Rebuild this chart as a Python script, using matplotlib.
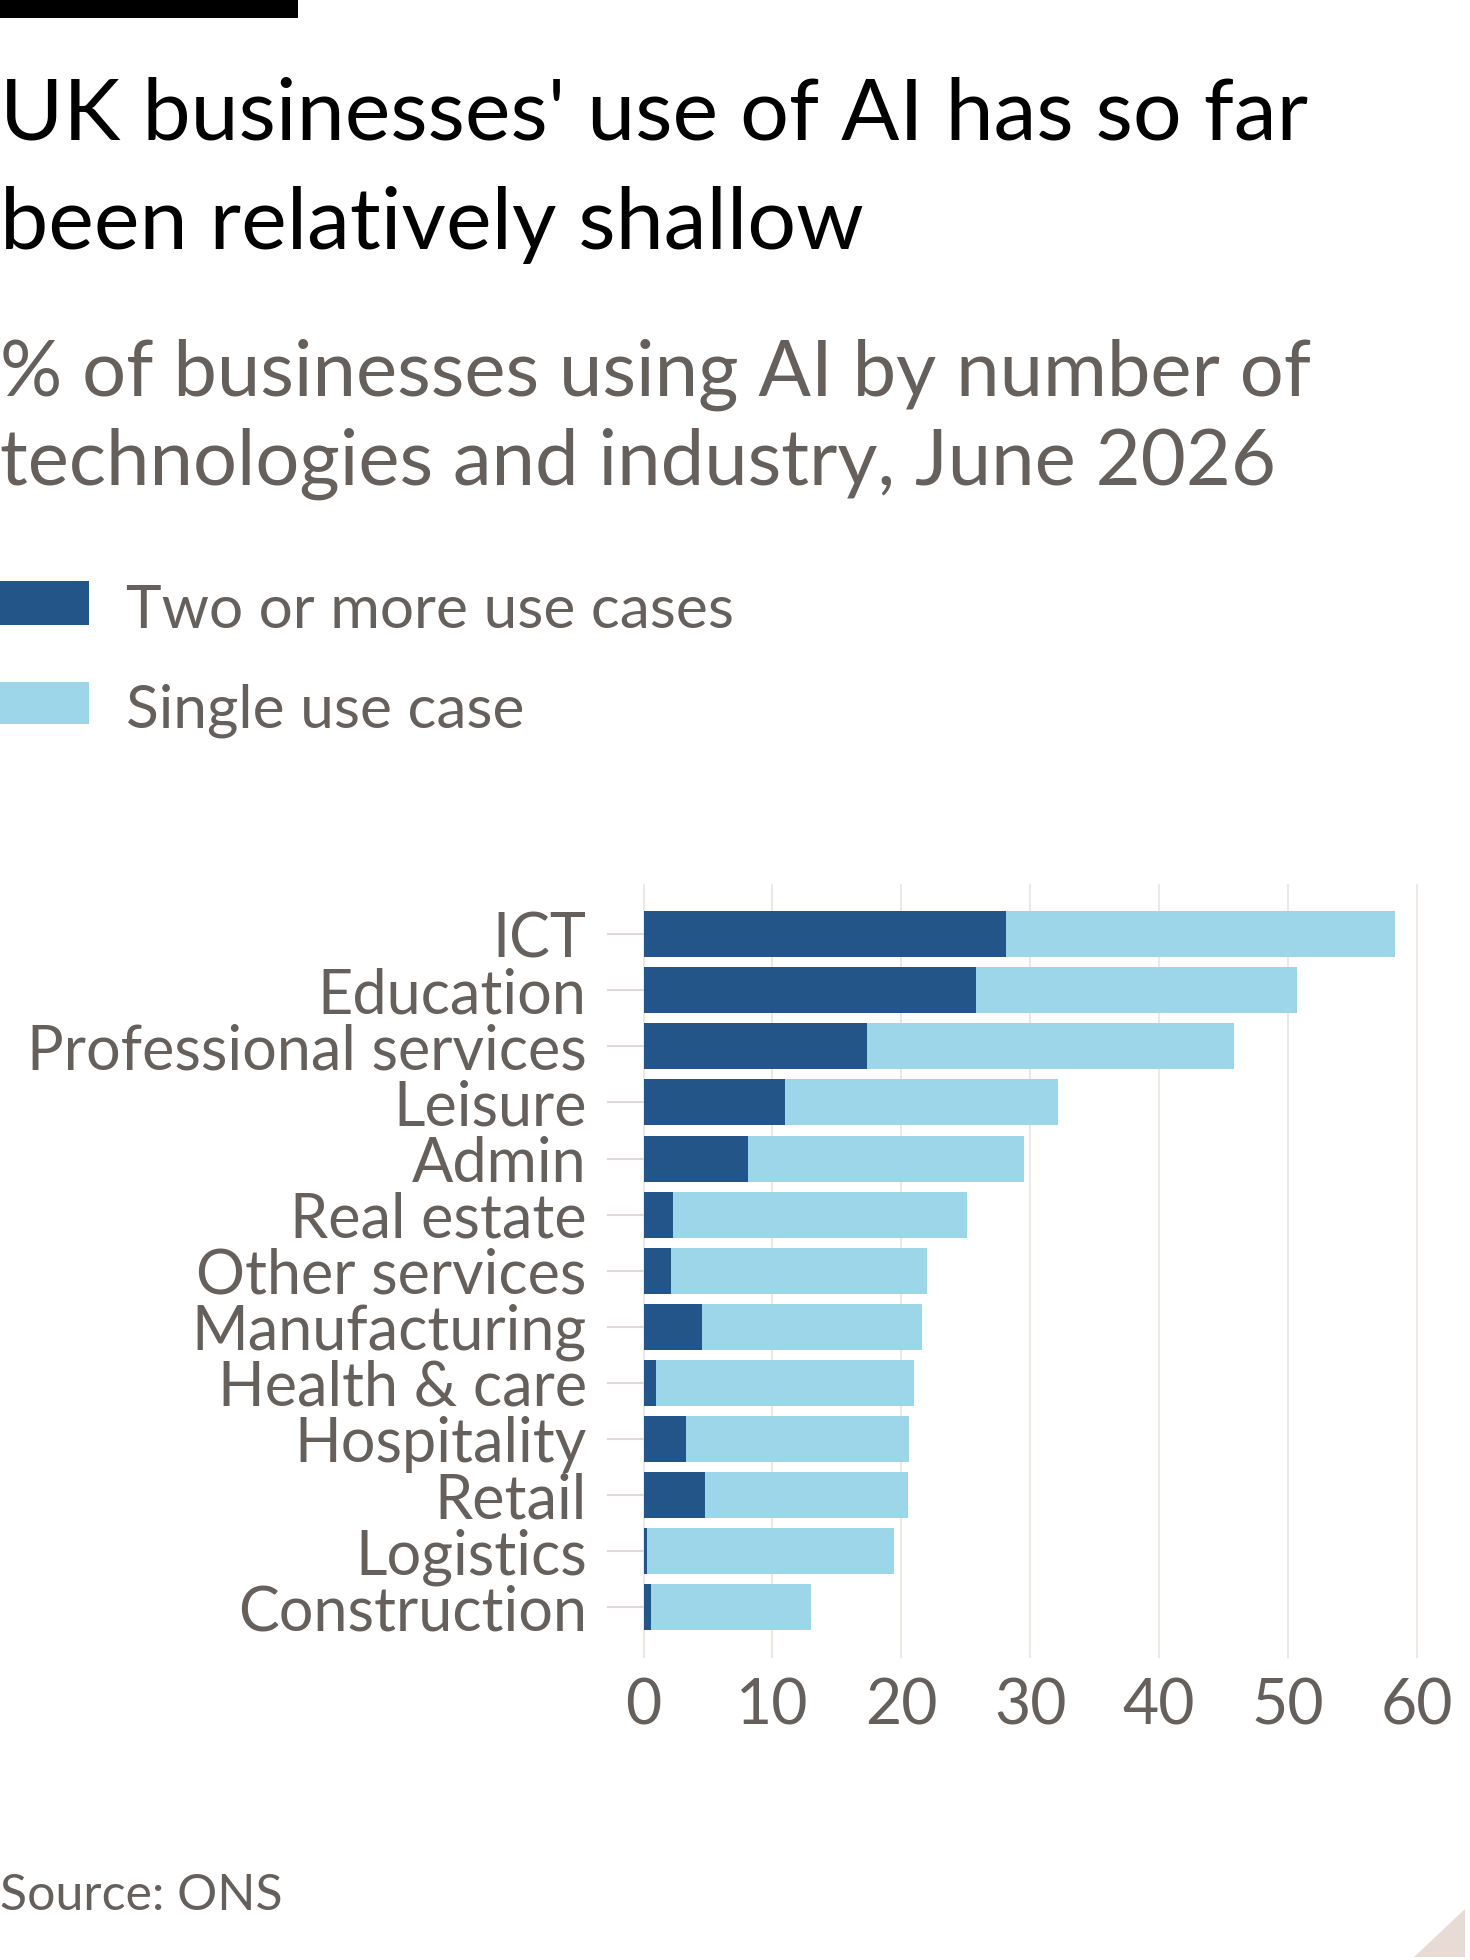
import matplotlib
matplotlib.use("Agg")
import matplotlib.pyplot as plt
from matplotlib.patches import Rectangle, Polygon

industries = ["ICT", "Education", "Professional services", "Leisure", "Admin",
              "Real estate", "Other services", "Manufacturing", "Health & care",
              "Hospitality", "Retail", "Logistics", "Construction"]
two_or_more = [28.1, 25.8, 17.3, 11.0, 8.1, 2.3, 2.1, 4.5, 1.0, 3.3, 4.8, 0.3, 0.6]
total = [58.3, 50.7, 45.8, 32.2, 29.5, 25.1, 22.0, 21.6, 21.0, 20.6, 20.5, 19.4, 13.0]
single = [round(t - m, 1) for t, m in zip(total, two_or_more)]
xticks = [0, 10, 20, 30, 40, 50, 60]

DARK = "#245589"
LIGHT = "#9dd6e8"
GREY = "#66605c"
GRID = "#ebe8e6"

plt.rcParams["font.family"] = ["Lato", "DejaVu Sans"]

W, H = 1158.0, 1544.0
fig = plt.figure(figsize=(14.7, 19.6), dpi=100)

def fy(p):
    return 1 - p / H

def fx(p):
    return p / W

# top black bar
fig.patches.append(Rectangle((0, fy(14)), fx(235), 14 / H, transform=fig.transFigure,
                             facecolor="black", edgecolor="none"))

fig.text(0, fy(110), "UK businesses' use of AI has so far", fontsize=62, color="black", va="baseline")
fig.text(0, fy(196), "been relatively shallow", fontsize=62, color="black", va="baseline")
fig.text(0, fy(312), "% of businesses using AI by number of", fontsize=56, color=GREY, va="baseline")
fig.text(0, fy(382), "technologies and industry, June 2026", fontsize=56, color=GREY, va="baseline")

# legend
fig.patches.append(Rectangle((0, fy(492)), fx(70), 34 / H, transform=fig.transFigure,
                             facecolor=DARK, edgecolor="none"))
fig.patches.append(Rectangle((0, fy(570)), fx(70), 33 / H, transform=fig.transFigure,
                             facecolor=LIGHT, edgecolor="none"))
fig.text(fx(99), fy(495), "Two or more use cases", fontsize=43.5, color=GREY, va="baseline")
fig.text(fx(99), fy(573), "Single use case", fontsize=43.5, color=GREY, va="baseline")

# axes
left, right = fx(507), fx(1116)
bottom, top = fy(1305), fy(697)
ax = fig.add_axes([left, bottom, right - left, top - bottom])
y = list(range(len(industries)))
ax.barh(y, two_or_more, height=0.82, color=DARK, zorder=3)
ax.barh(y, single, left=two_or_more, height=0.82, color=LIGHT, zorder=3)
ax.set_xlim(0, 60)
ax.set_ylim(len(industries) - 1 + 0.88, -0.88)
ax.set_yticks(y)
ax.set_yticklabels(industries, fontsize=44, color=GREY)
ax.set_xticks(xticks)
ax.set_xticklabels([str(v) for v in xticks], fontsize=45, color=GREY)
ax.xaxis.grid(True, color=GRID, lw=1.5, zorder=0)
for gl in ax.get_xgridlines():
    gl.set_clip_on(False)
ax.tick_params(axis="x", length=0, pad=15)
ax.tick_params(axis="y", length=27, width=1.5, color="#dedada", pad=14)
for s in ax.spines.values():
    s.set_visible(False)

fig.text(0, fy(1505), "Source: ONS", fontsize=36, color=GREY, va="baseline")

# corner decoration
fig.patches.append(Polygon([(fx(1114), fy(1542)), (fx(1154), fy(1542)), (fx(1154), fy(1504))],
                           closed=True, transform=fig.transFigure, facecolor="#e8dbd5", edgecolor="none"))

fig.savefig("out.png", dpi=100, facecolor="white")
